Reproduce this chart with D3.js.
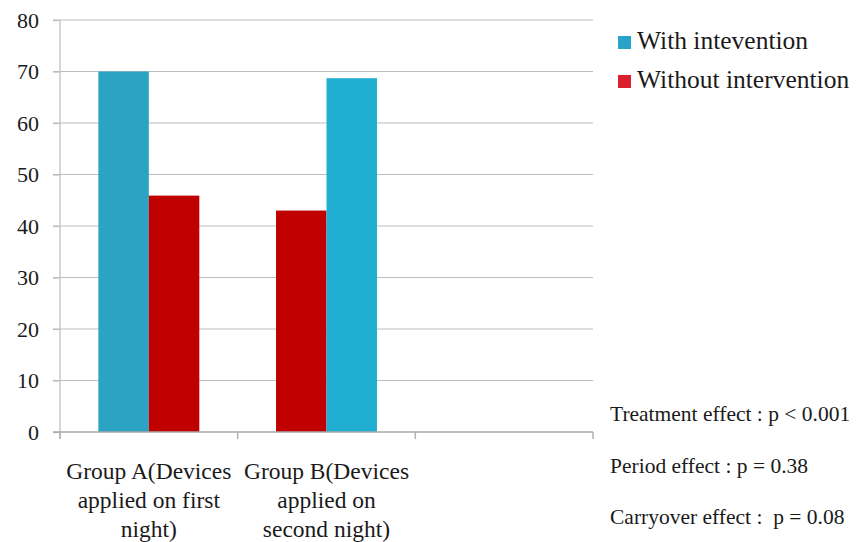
<!DOCTYPE html>
<html><head><meta charset="utf-8">
<script src="https://d3js.org/d3.v7.min.js"></script>
<style>
html,body{margin:0;padding:0;background:#fff;}
svg text{font-family:"Liberation Serif","Times New Roman",serif !important;fill:#1a1a1a;white-space:pre;}
</style></head>
<body><svg id="c" width="856" height="542" font-family="Liberation Serif, serif"></svg>
<script>
const categories = ["Group A", "Group B", "Empty"];
const categoryLines = [["Group A(Devices", "applied on first", "night)"], ["Group B(Devices", "applied on", "second night)"], []];
const seriesNames = ["With intevention", "Without intervention"];
const withIntervention = [70, 68.7];
const withoutIntervention = [45.9, 43.0];
const barOrder = [["with", "without"], ["without", "with"]];
const withColors = ["#2CA3C2", "#20AFD3"];
const legendColors = ["#2AA3C8", "#DC2030"];
const withoutColor = "#C00000";
const yTicks = [0, 10, 20, 30, 40, 50, 60, 70, 80];
const notes = ["Treatment effect : p < 0.001", "Period effect : p = 0.38", "Carryover effect :  p = 0.08"];

const FONT = "'Liberation Serif', serif";
const svg = d3.select("#c");
const mLeft = 60, mRight = 593, mTop = 20, mBottom = 432;
const y = d3.scaleLinear().domain([0, 80]).range([mBottom, mTop]);
const x0 = d3.scaleBand().domain(categories).range([mLeft, mRight]).padding(0);
const x1 = d3.scaleBand().domain([0, 1]).range([0, x0.bandwidth()]).paddingInner(0).paddingOuter(0.76);

// gridlines
svg.append("g").selectAll("line").data(yTicks.filter(d => d > 0)).join("line")
  .attr("x1", mLeft - 7).attr("x2", mRight).attr("y1", d => y(d)).attr("y2", d => y(d))
  .attr("stroke", "#BDBDBD").attr("stroke-width", 1.2);

// y axis
const yAxis = d3.axisLeft(y).tickValues(yTicks).tickSize(7).tickPadding(14).tickFormat(d3.format("d"));
const gy = svg.append("g").attr("transform", `translate(${mLeft},0)`).call(yAxis)
  .attr("font-family", FONT);
gy.select(".domain").attr("stroke", "#C8C8C8").attr("stroke-width", 1.5).attr("d", `M0,${mTop}V${mBottom + 7}`);
gy.selectAll(".tick line").attr("stroke", "#BDBDBD").attr("stroke-width", 1.2);
gy.selectAll(".tick text").attr("font-size", 22).attr("fill", "#1a1a1a")
  .style("font-family", FONT);

// bars
const bars = [];
categories.slice(0, 2).forEach((c, i) => {
  barOrder[i].forEach((s, j) => {
    bars.push({
      cat: c, slot: j,
      value: s === "with" ? withIntervention[i] : withoutIntervention[i],
      color: s === "with" ? withColors[i] : withoutColor
    });
  });
});
svg.append("g").selectAll("rect").data(bars).join("rect")
  .attr("x", d => x0(d.cat) + x1(d.slot))
  .attr("width", x1.bandwidth())
  .attr("y", d => y(d.value))
  .attr("height", d => y(0) - y(d.value))
  .attr("fill", d => d.color);

// x axis
const xAxisG = svg.append("g").attr("transform", `translate(0,${mBottom})`);
xAxisG.append("line").attr("x1", mLeft - 7).attr("x2", mRight).attr("y1", 0).attr("y2", 0)
  .attr("stroke", "#A8A8A8").attr("stroke-width", 1.5);
const boundaries = categories.map(c => x0(c)).concat([mRight]);
xAxisG.selectAll(".xt").data(boundaries).join("line").attr("class", "xt")
  .attr("x1", d => d).attr("x2", d => d).attr("y1", 0).attr("y2", 7)
  .attr("stroke", "#B0B0B0").attr("stroke-width", 1.5);

// category labels
categories.forEach((c, i) => {
  const t = svg.append("text").attr("x", x0(c) + x0.bandwidth() / 2).attr("y", 479)
    .attr("text-anchor", "middle").attr("font-size", 23.5).style("font-family", FONT);
  categoryLines[i].forEach((ln, k) => {
    t.append("tspan").attr("x", x0(c) + x0.bandwidth() / 2).attr("y", 479 + k * 29).text(ln);
  });
});

// legend
const lg = svg.append("g");
seriesNames.forEach((s, i) => {
  lg.append("rect").attr("x", 618).attr("y", 36 + i * 39).attr("width", 13).attr("height", 13)
    .attr("fill", legendColors[i]);
  lg.append("text").attr("x", 637).attr("y", 49 + i * 39).attr("font-size", 25.5)
    .style("font-family", FONT).text(s);
});

// notes
notes.forEach((n, i) => {
  svg.append("text").attr("x", 610).attr("y", 421 + i * 51.5).attr("font-size", 21.5)
    .style("font-family", FONT).style("white-space", "pre").text(n);
});
</script></body></html>
